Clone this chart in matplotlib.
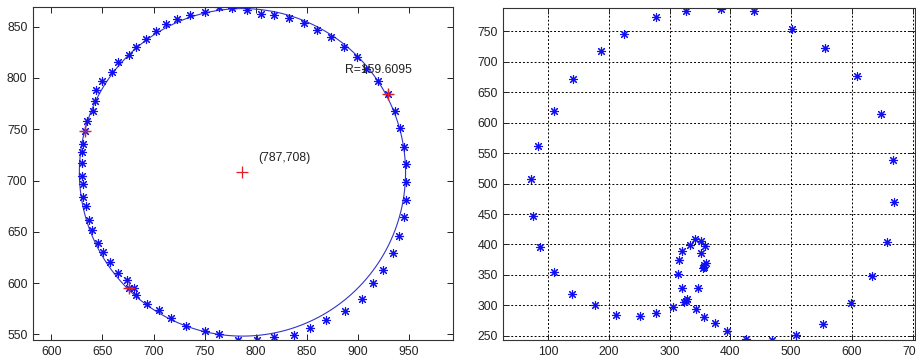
import matplotlib.pyplot as plt
import numpy as np

plt.rcParams['font.family'] = ['Liberation Sans', 'DejaVu Sans']

# left panel: edge points and fitted circle
ring_x = [764, 777, 791, 805, 818, 833, 847, 860, 874, 886, 899, 908, 920, 929,
          936, 941, 945, 947, 947, 947, 945, 940, 934, 925, 915, 904, 887, 869,
          853, 837, 818, 801, 783, 764, 750, 732, 717, 705, 694, 683, 681, 676,
          674, 665, 657, 651, 646, 640, 637, 634, 631, 631, 630, 630, 630, 631,
          633, 635, 641, 643, 644, 650, 659, 665, 676, 683, 693, 702, 712, 723,
          736, 750]
ring_y = [869, 868, 866, 862, 861, 858, 854, 847, 840, 830, 820, 809, 797, 784,
          768, 751, 733, 716, 699, 681, 664, 646, 629, 613, 600, 585, 573, 564,
          556, 549, 548, 545, 545, 550, 553, 558, 566, 574, 580, 588, 595, 595,
          603, 610, 621, 630, 639, 652, 662, 675, 684, 697, 704, 717, 728, 736,
          748, 758, 768, 778, 788, 797, 806, 816, 822, 830, 838, 846, 853, 857,
          861, 864]
pick_x = [929, 676, 633]
pick_y = [784, 595, 748]
center = (787, 708)
radius = 159.6095

# right panel: scattered points
scat_x = [384, 439, 502, 555, 608, 648, 668, 670, 658, 633, 598, 553, 508, 468,
          425, 394, 374, 357, 343, 306, 277, 251, 211, 177, 139, 109, 87, 75,
          71, 83, 109, 141, 187, 224, 278, 327,
          326, 329, 323, 346, 320, 314, 315, 321, 333, 341, 352, 358, 351, 356,
          359, 354, 357]
scat_y = [787, 783, 754, 722, 677, 615, 538, 469, 404, 349, 304, 269, 251, 243,
          245, 258, 271, 281, 294, 297, 287, 283, 285, 300, 318, 355, 396, 447,
          508, 561, 619, 672, 718, 745, 774, 783,
          307, 310, 305, 328, 329, 352, 374, 390, 399, 409, 406, 397, 386, 367,
          369, 362, 363]

star = (8, 2, 0)
blue = '#1010f0'

fig = plt.figure(figsize=(9.16, 3.58), dpi=100)

ax1 = fig.add_axes([0.036, 0.050, 0.4585, 0.930])
t = np.linspace(0, 2 * np.pi, 400)
ax1.plot(center[0] + radius * np.cos(t), center[1] + radius * np.sin(t),
         color='#3333cc', lw=0.8)
ax1.plot(ring_x, ring_y, linestyle='none', marker=star, ms=6.5, mew=0.8, color=blue)
ax1.plot(pick_x, pick_y, linestyle='none', marker='+', ms=8, mew=1.0, color='#e02020')
ax1.plot([center[0]], [center[1]], linestyle='none', marker='+', ms=9, mew=0.9, color='#e02020')
ax1.text(887, 808, 'R=%.4f' % radius, fontsize=8.8, va='center', ha='left', color='#222222')
ax1.text(802, 722, '(%d,%d)' % center, fontsize=8.8, va='center', ha='left', color='#222222')
ax1.set_xlim(582, 993)
ax1.set_ylim(544.5, 869)
ax1.set_xticks(np.arange(600, 951, 50))
ax1.set_yticks(np.arange(550, 851, 50))

ax2 = fig.add_axes([0.5495, 0.050, 0.4495, 0.927])
ax2.plot(scat_x, scat_y, linestyle='none', marker=star, ms=6.5, mew=0.8, color=blue)
ax2.set_xlim(26, 704)
ax2.set_ylim(243, 788)
ax2.set_xticks(np.arange(100, 701, 100))
ax2.set_yticks(np.arange(250, 751, 50))
ax2.grid(True, color='black', linestyle=(0, (2, 2)), linewidth=0.7)

for ax in (ax1, ax2):
    ax.tick_params(direction='in', length=4, width=0.7, top=True, right=True,
                   labelsize=8.8, pad=4, colors='#222222')
    for s in ax.spines.values():
        s.set_linewidth(0.8)
        s.set_color('#333333')

fig.savefig('out.png', dpi=100)
